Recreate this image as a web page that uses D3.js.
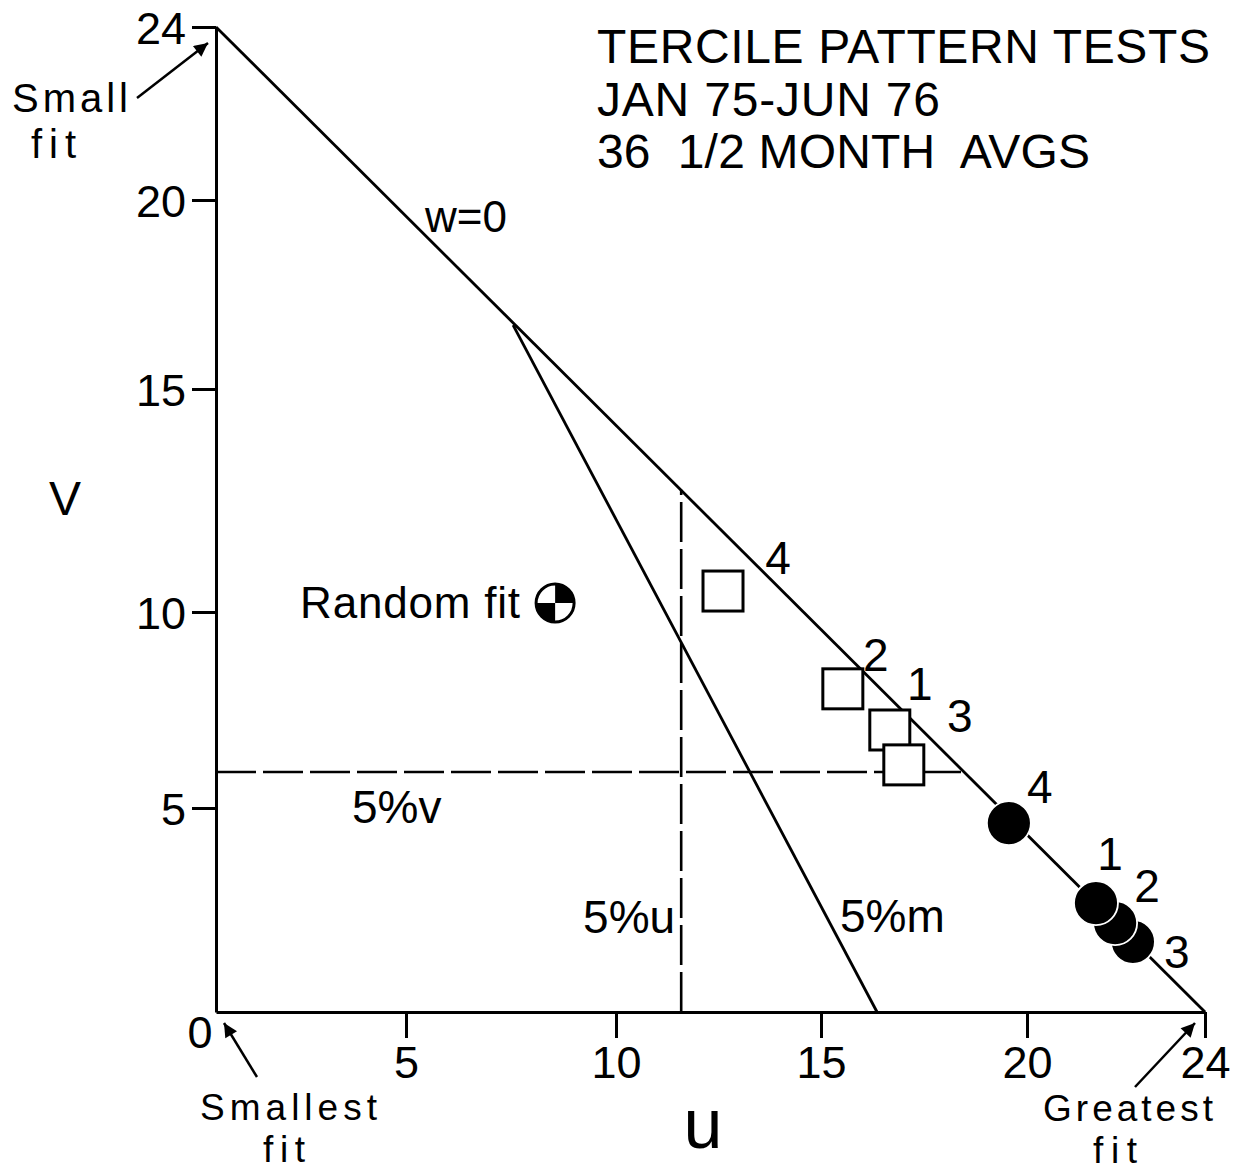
<!DOCTYPE html>
<html>
<head>
<meta charset="utf-8">
<script src="https://cdn.jsdelivr.net/npm/d3@7"></script>
<style>
  html, body { margin: 0; padding: 0; background: #fff; }
  svg { display: block; }
  text { font-family: 'Liberation Sans', Arial, sans-serif; fill: #000; white-space: pre; }
</style>
</head>
<body>
<svg id="chart" width="1243" height="1173"></svg>
<script>
// axis ticks
const uTicks = [0, 5, 10, 15, 20, 24];
const vTicks = [0, 5, 10, 15, 20, 24];

// the hand-drawn axes are not evenly spaced, so the scales are calibrated per tick
const uStops = [216, 406, 616, 821, 1027, 1205];
const vStops = [1012, 808, 612, 389, 200, 27];

const titleLines = ['TERCILE PATTERN TESTS', 'JAN 75-JUN 76', '36  1/2 MONTH  AVGS'];

// tercile test results (u, v)
const squareLabels = ['4', '2', '1', '3'];
const squareU = [12.61, 15.53, 16.67, 17.01];
const squareV = [10.47, 8.04, 6.99, 6.1];

const dotLabels = ['4', '3', '2', '1'];
const dotU = [19.56, 22.38, 21.98, 21.55];
const dotV = [4.63, 1.72, 2.18, 2.67];

const randomFit = { u: 8.55, v: 10.2 };

// reference lines
const zeroLine = [[0, 24], [24, 0]];
const mLine = [[7.55, 16.69], [16.36, 0]];
const uLine = [[11.59, 0], [11.59, 12.74]];
const vLine = [[0, 5.92], [18.45, 5.92]];

const svg = d3.select('#chart');
const x = d3.scaleLinear().domain(uTicks).range(uStops);
const y = d3.scaleLinear().domain(vTicks).range(vStops);

const line = d3.line().x((d) => x(d[0])).y((d) => y(d[1]));

// arrowhead
svg.append('defs')
  .append('marker')
  .attr('id', 'arrow')
  .attr('viewBox', '0 0 10 10')
  .attr('refX', 10)
  .attr('refY', 5)
  .attr('markerWidth', 8.5)
  .attr('markerHeight', 5.5)
  .attr('markerUnits', 'strokeWidth')
  .attr('orient', 'auto')
  .append('path')
  .attr('d', 'M0,0L10,5L0,10Z')
  .attr('fill', '#000');

// axes
const xAxis = svg.append('g')
  .attr('transform', `translate(0,${y(0)})`)
  .call(d3.axisBottom(x).tickValues([5, 10, 15, 20, 24]).tickSize(26).tickSizeOuter(0).tickPadding(8));
const yAxis = svg.append('g')
  .attr('transform', `translate(${x(0)},0)`)
  .call(d3.axisLeft(y).tickValues([5, 10, 15, 20, 24]).tickSize(24).tickSizeOuter(0).tickPadding(6));

[xAxis, yAxis].forEach((g) => {
  g.select('.domain').attr('stroke', '#000').attr('stroke-width', 3);
  g.selectAll('.tick line').attr('stroke', '#000').attr('stroke-width', 3);
  g.selectAll('.tick text')
    .attr('font-family', "'Liberation Sans', Arial, sans-serif")
    .attr('font-size', 45)
    .attr('fill', '#000');
});
yAxis.selectAll('.tick text').attr('dy', '0.36em');

svg.append('text')
  .attr('x', x(0) - 16)
  .attr('y', y(0) + 36)
  .attr('text-anchor', 'middle')
  .attr('font-size', 45)
  .text('0');

// reference lines
[zeroLine, mLine].forEach((d) => {
  svg.append('path')
    .attr('d', line(d))
    .attr('fill', 'none')
    .attr('stroke', '#000')
    .attr('stroke-width', 2.8);
});

[uLine, vLine].forEach((d) => {
  svg.append('path')
    .attr('d', line(d))
    .attr('fill', 'none')
    .attr('stroke', '#000')
    .attr('stroke-width', 2.6)
    .attr('stroke-dasharray', '40,7');
});

// open squares
const side = 40;
squareU.forEach((u, i) => {
  svg.append('rect')
    .attr('x', x(u) - side / 2)
    .attr('y', y(squareV[i]) - side / 2)
    .attr('width', side)
    .attr('height', side)
    .attr('fill', '#fff')
    .attr('stroke', '#000')
    .attr('stroke-width', 3);
});

const squareOffsets = [[55, 17], [33, 18], [30, 30], [56, 33]];
squareLabels.forEach((lab, i) => {
  svg.append('text')
    .attr('x', x(squareU[i]) + squareOffsets[i][0])
    .attr('y', y(squareV[i]) - squareOffsets[i][1])
    .attr('text-anchor', 'middle')
    .attr('font-size', 46)
    .text(lab);
});

// filled dots, drawn back to front so the white rims show
dotU.forEach((u, i) => {
  svg.append('circle')
    .attr('cx', x(u))
    .attr('cy', y(dotV[i]))
    .attr('r', 22)
    .attr('fill', '#000')
    .attr('stroke', '#fff')
    .attr('stroke-width', 1.8);
});

const dotOffsets = [[31, 20], [44, -26], [32, 21], [14, 33]];
dotLabels.forEach((lab, i) => {
  svg.append('text')
    .attr('x', x(dotU[i]) + dotOffsets[i][0])
    .attr('y', y(dotV[i]) - dotOffsets[i][1])
    .attr('text-anchor', 'middle')
    .attr('font-size', 46)
    .text(lab);
});

// random fit symbol
const rf = svg.append('g').attr('transform', `translate(${x(randomFit.u)},${y(randomFit.v)})`);
const quarter = d3.arc().innerRadius(0).outerRadius(19);
rf.append('circle').attr('r', 19).attr('fill', '#fff');
rf.append('path').attr('d', quarter({ startAngle: 0, endAngle: Math.PI / 2 })).attr('fill', '#000');
rf.append('path').attr('d', quarter({ startAngle: Math.PI, endAngle: Math.PI * 1.5 })).attr('fill', '#000');
rf.append('circle').attr('r', 19).attr('fill', 'none').attr('stroke', '#000').attr('stroke-width', 3);

svg.append('text')
  .attr('x', x(randomFit.u) - 255)
  .attr('y', y(randomFit.v) + 15)
  .attr('font-size', 44)
  .attr('textLength', 220)
  .attr('lengthAdjust', 'spacing')
  .text('Random fit');

// line labels
svg.append('text').attr('x', 425).attr('y', 232).attr('font-size', 44).text('w=0');
svg.append('text').attr('x', 352).attr('y', 823).attr('font-size', 46).text('5%v');
svg.append('text').attr('x', x(uLine[0][0]) - 6).attr('y', 933).attr('text-anchor', 'end').attr('font-size', 46).text('5%u');
svg.append('text').attr('x', 840).attr('y', 932).attr('font-size', 46).text('5%m');

// axis titles
svg.append('text').attr('x', 65).attr('y', 515).attr('text-anchor', 'middle').attr('font-size', 48).text('V');
svg.append('text').attr('x', 703).attr('y', 1148).attr('text-anchor', 'middle').attr('font-size', 70).text('u');

// title block
const titleWidths = [613, 343, 493];
titleLines.forEach((t, i) => {
  svg.append('text')
    .attr('x', 597)
    .attr('y', 63 + i * 52.5)
    .attr('font-size', 48)
    .attr('textLength', titleWidths[i])
    .attr('lengthAdjust', 'spacing')
    .text(t);
});

// corner annotations
const notes = [
  { lines: ['Small', 'fit'], widths: [116, 45], left: [12, 31], base: 112, gap: 46, size: 40, from: [137, 98], to: [x(0) - 8, y(24) + 16] },
  { lines: ['Smallest', 'fit'], widths: [177, 42], left: [200, 263], base: 1120, gap: 42, size: 37, from: [257, 1077], to: [x(0) + 8, y(0) + 11] },
  { lines: ['Greatest', 'fit'], widths: [170, 44], left: [1043, 1093], base: 1121, gap: 42, size: 37, from: [1135, 1087], to: [x(24) - 10, y(0) + 11] },
];
notes.forEach((n) => {
  n.lines.forEach((t, j) => {
    svg.append('text')
      .attr('x', n.left[j])
      .attr('y', n.base + j * n.gap)
      .attr('font-size', n.size)
      .attr('textLength', n.widths[j])
      .attr('lengthAdjust', 'spacing')
      .text(t);
  });
  svg.append('line')
    .attr('x1', n.from[0]).attr('y1', n.from[1])
    .attr('x2', n.to[0]).attr('y2', n.to[1])
    .attr('stroke', '#000')
    .attr('stroke-width', 2.5)
    .attr('marker-end', 'url(#arrow)');
});
</script>
</body>
</html>
